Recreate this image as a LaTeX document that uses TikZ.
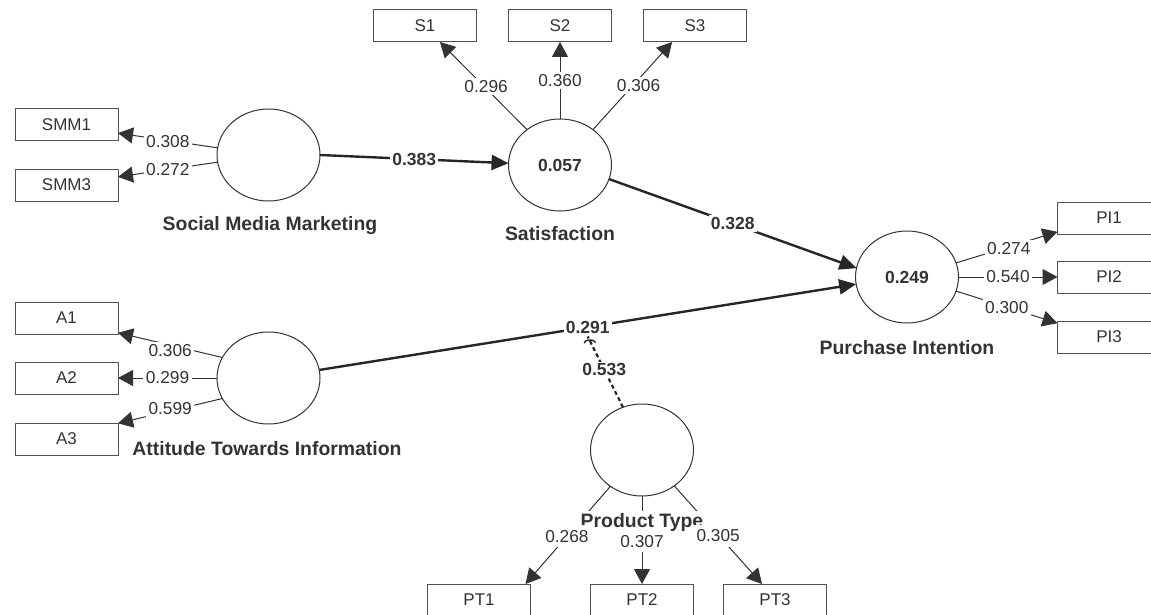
\documentclass[tikz,border=0pt]{standalone}
\usepackage{fontspec}
\setmainfont{Liberation Sans}
\usetikzlibrary{shapes.geometric,arrows.meta}
\definecolor{ink}{HTML}{333333}
\tikzset{
 latent/.style={ellipse,draw=ink,line width=1pt,minimum width=103pt,minimum height=92pt,inner sep=0pt,outer sep=0pt,font=\fontsize{17.5}{19}\selectfont\bfseries,text=ink},
 item/.style={rectangle,draw=ink!85,line width=1pt,minimum width=103pt,minimum height=32pt,inner sep=0pt,outer sep=0pt,font=\fontsize{17}{19}\selectfont,text=ink},
 lbl/.style={fill=white,inner sep=2.5pt,font=\fontsize{17.3}{19}\selectfont,text=ink},
 blbl/.style={fill=white,inner sep=2pt,font=\fontsize{17.5}{19}\selectfont\bfseries,text=ink},
 title/.style={inner sep=0pt,font=\fontsize{19.4}{21}\selectfont\bfseries,text=ink},
 load/.style={draw=ink,line width=1pt,-{Triangle[length=15pt,width=16pt]}},
 path/.style={draw=black!85,line width=2.4pt,-{Triangle[length=17pt,width=15pt]}},
 moder/.style={draw=black!85,line width=2.2pt,dash pattern=on 4pt off 3pt}
}
\begin{document}
\begin{tikzpicture}[x=1pt,y=-1pt]
\useasboundingbox (0,0) rectangle (1151,615);
\fill[white] (0,0) rectangle (1151,615);
% latent variables
\node[latent] (smm) at (268.5,155) {};
\node[latent] (sat) at (560,165) {0.057};
\node[latent] (pi) at (907,277) {0.249};
\node[latent] (ati) at (268.5,378) {};
\node[latent] (pt) at (642,450) {};
% indicators
\node[item] (smm1) at (66.5,125) {SMM1};
\node[item] (smm3) at (66.5,185) {SMM3};
\node[item] (a1) at (66.5,318) {A1};
\node[item] (a2) at (66.5,378) {A2};
\node[item] (a3) at (66.5,439) {A3};
\node[item] (s1) at (425,26) {S1};
\node[item] (s2) at (560,26) {S2};
\node[item] (s3) at (695,26) {S3};
\node[item] (pi1) at (1109,218) {PI1};
\node[item] (pi2) at (1109,277) {PI2};
\node[item] (pi3) at (1109,337) {PI3};
\node[item] (pt1) at (479,600) {PT1};
\node[item] (pt2) at (642,600) {PT2};
\node[item] (pt3) at (775,600) {PT3};
% titles
\node[title] at (270,226) {Social Media Marketing};
\node[title] at (560,234) {Satisfaction};
\node[title] at (907,348) {Purchase Intention};
\node[title] at (267,449) {Attitude Towards Information};
% outer loadings
\draw[load] (smm.172) -- node[lbl,pos=.5,yshift=-1pt]{0.308} (smm1.-9);
\draw[load] (smm.188) -- node[lbl,pos=.5]{0.272} (smm3.9);
\draw[load] (sat.133) -- node[lbl,pos=.47,yshift=2pt]{0.296} (s1.-47);
\draw[load] (sat.north) -- node[lbl,pos=.5]{0.360} (s2.south);
\draw[load] (sat.47) -- node[lbl,pos=.5,xshift=6pt]{0.306} (s3.-145);
\draw[load] (ati.156) -- node[lbl,pos=.5,yshift=-5pt]{0.306} (a1.-16);
\draw[load] (ati.west) -- node[lbl,pos=.5]{0.299} (a2.east);
\draw[load] (ati.204) -- node[lbl,pos=.5,yshift=2pt]{0.599} (a3.17);
\draw[load] (pi.16) -- node[lbl,pos=.5,xshift=2pt,yshift=-1pt]{0.274} (pi1.195);
\draw[load] (pi.east) -- node[lbl,pos=.5]{0.540} (pi2.west);
\draw[load] (pi.-16) -- node[lbl,pos=.5]{0.300} (pi3.165);
% inner paths
\draw[path] (smm.east) -- node[blbl,pos=.5]{0.383} (sat.178);
\draw[path] (sat.-16) -- node[blbl,pos=.5]{0.328} (pi.170);
\draw[path] (ati.9) -- node[blbl,pos=.5,name=m]{0.291} (pi.188);
% moderation
\draw[moder] (pt.114) -- node[blbl,pos=.53]{0.533} (m.south);
\draw[draw=black!85,line width=1.4pt] (m.south) ++(8,6) arc[start angle=20,end angle=170,x radius=6pt,y radius=4pt];
% product type loadings, its title lying between the lines and the numbers
\draw[load] (pt.229) -- (pt1.19);
\draw[load] (pt.south) -- (pt2.north);
\draw[load] (pt.-48) -- (pt3.129);
\node[title,fill=white,inner ysep=2pt,inner xsep=12pt] at (642,522) {Product Type};
\path (pt.229) -- node[lbl,pos=.5,inner ysep=5pt,xshift=-1pt,yshift=-1pt]{0.268} (pt1.19);
\path (pt.south) -- node[lbl,pos=.5,inner ysep=4pt,yshift=-2pt]{0.307} (pt2.north);
\path (pt.-48) -- node[lbl,pos=.5,inner ysep=5pt,yshift=-1pt]{0.305} (pt3.129);
\end{tikzpicture}
\end{document}
